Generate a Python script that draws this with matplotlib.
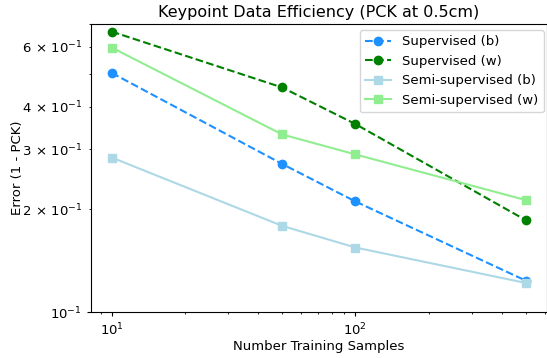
import matplotlib
matplotlib.use("Agg")
import matplotlib.pyplot as plt
from matplotlib.ticker import FuncFormatter
import math

samples = [10, 50, 100, 500]
sup_b = [0.503, 0.272, 0.211, 0.1236]
sup_w = [0.665, 0.456, 0.356, 0.186]
semi_b = [0.284, 0.179, 0.1546, 0.1217]
semi_w = [0.597, 0.332, 0.290, 0.213]

plt.rcParams['font.size'] = 9.5
plt.rcParams['axes.titlesize'] = 11.5
plt.rcParams['xtick.major.size'] = 2.7
plt.rcParams['ytick.major.size'] = 2.7
plt.rcParams['xtick.minor.size'] = 1.7
plt.rcParams['ytick.minor.size'] = 1.7
plt.rcParams['xtick.major.pad'] = 4.3
plt.rcParams['ytick.major.pad'] = 4.3
plt.rcParams['xtick.minor.pad'] = 4.3
plt.rcParams['ytick.minor.pad'] = 4.3

def yfmt(v, pos):
    e = int(math.floor(math.log10(v) + 1e-9))
    m = v / 10**e
    if abs(m - 1) < 1e-6:
        return r'$\mathdefault{10^{%d}}$' % e
    return r'$\mathdefault{%d\,\times\,10^{%d}}$' % (round(m), e)

def yminor(v, pos):
    e = int(math.floor(math.log10(v) + 1e-9))
    m = round(v / 10**e)
    if m in (2, 3, 4, 6):
        return yfmt(v, pos)
    return ''

fig = plt.figure(figsize=(5.47, 3.58), dpi=100)
ax = fig.add_axes([91/547, 1-312/358, (546.5-91)/547, (312-24)/358])
ax.plot(samples, sup_b, 'o--', color='dodgerblue', label='Supervised (b)')
ax.plot(samples, sup_w, 'o--', color='green', label='Supervised (w)')
ax.plot(samples, semi_b, 's-', color='lightblue', label='Semi-supervised (b)')
ax.plot(samples, semi_w, 's-', color='lightgreen', label='Semi-supervised (w)')
ax.set_xscale('log')
ax.set_yscale('log')
ax.set_ylim(0.1, 0.7)
ax.yaxis.set_major_formatter(FuncFormatter(yfmt))
ax.yaxis.set_minor_formatter(FuncFormatter(yminor))
ax.set_xlabel('Number Training Samples', labelpad=1.5)
ax.set_ylabel('Error (1 - PCK)', labelpad=-1.3)
ax.set_title('Keypoint Data Efficiency (PCK at 0.5cm)', pad=5)
ax.legend(loc='upper right', bbox_to_anchor=(543.5/547, 1-30/358),
          bbox_transform=fig.transFigure, borderaxespad=0)
fig.savefig('out.png', dpi=100)
